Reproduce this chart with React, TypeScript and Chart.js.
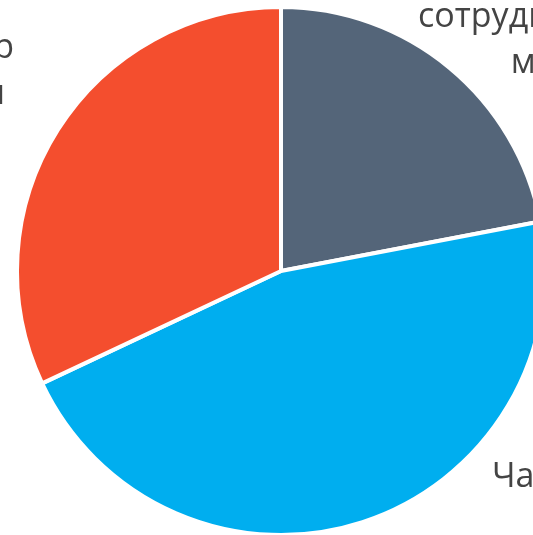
import React, { useEffect, useRef } from "react";
import { Chart, registerables } from "chart.js";

Chart.register(...registerables);

const categories = ["Работа с сотрудниками", "Частные клиенты", "Топ-менеджеры"];
const values = [22, 46, 32];
const labelLines: string[][] = [
  ["сотрудниками", "мы"],
  ["Частные клиенты"],
  ["Топ-менеджер", "и основатели\u00A0"],
];
const colors = ["#546579", "#00AEEF", "#F44E2E"];

// label anchor placement (polar, relative to pie centre and radius)
const labelPlace = [
  { angle: 46.3, k: 1.337, align: "center" as CanvasTextAlign },
  { angle: 135.7, k: 1.144, align: "left" as CanvasTextAlign },
  { angle: 308.58, k: 1.2937, align: "right" as CanvasTextAlign },
];

const outsideLabels = {
  id: "outsideLabels",
  afterDraw(chart: any) {
    const meta = chart.getDatasetMeta(0);
    const arc0 = meta.data[0];
    if (!arc0) return;
    const { x, y, outerRadius } = arc0.getProps(["x", "y", "outerRadius"], true);
    const ctx = chart.ctx as CanvasRenderingContext2D;
    ctx.save();
    ctx.font = '34px "Open Sans"';
    ctx.fillStyle = "#444444";
    ctx.textBaseline = "alphabetic";
    labelLines.forEach((lines, i) => {
      const p = labelPlace[i];
      const a = (p.angle * Math.PI) / 180;
      const ax = x + outerRadius * p.k * Math.sin(a);
      const ay = y - outerRadius * p.k * Math.cos(a);
      ctx.textAlign = p.align;
      lines.forEach((l, j) => ctx.fillText(l, ax, ay + j * 46));
    });
    ctx.restore();
  },
};

export default function App() {
  const ref = useRef<HTMLCanvasElement | null>(null);
  useEffect(() => {
    if (!ref.current) return;
    const chart = new Chart(ref.current, {
      type: "pie",
      data: {
        labels: categories,
        datasets: [
          {
            data: values,
            backgroundColor: colors,
            borderColor: "#ffffff",
            borderWidth: 4,
            hoverOffset: 0,
          },
        ],
      },
      options: {
        responsive: false,
        animation: false,
        layout: { padding: 5 },
        plugins: {
          legend: { display: false },
          tooltip: { enabled: false },
        },
        events: [],
      },
      plugins: [outsideLabels],
    });
    return () => chart.destroy();
  }, []);
  return (
    <div
      style={{
        position: "fixed",
        left: 0,
        top: 0,
        width: 533,
        height: 535,
        overflow: "hidden",
        background: "#ffffff",
      }}
    >
      <canvas ref={ref} width={562} height={542} style={{ display: "block", width: 562, height: 542 }} />
    </div>
  );
}
